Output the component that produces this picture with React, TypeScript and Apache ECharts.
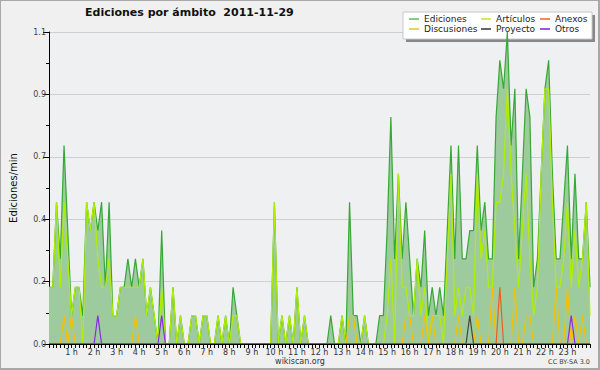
import React, { useEffect, useRef } from "react";
import * as echarts from "echarts";

// 10-minute points from 00:00 to 24:00 (145 points), edits per minute
const ediciones = [
  0.2, 0.2, 0.5, 0.3, 0.7, 0.4, 0.1, 0.2, 0.2, 0.1,
  0.5, 0.4, 0.5, 0.4, 0.5, 0.2, 0.5, 0.1, 0.1, 0.2,
  0.2, 0.3, 0.2, 0.3, 0.2, 0.3, 0.1, 0.2, 0.1, 0,
  0.4, 0, 0, 0.2, 0, 0.1, 0, 0, 0.1, 0.1,
  0, 0.1, 0.1, 0, 0, 0.1, 0, 0.1, 0, 0.2,
  0.1, 0, 0, 0, 0, 0, 0, 0, 0, 0,
  0.5, 0, 0.1, 0, 0.1, 0, 0.2, 0, 0.1, 0,
  0, 0, 0, 0, 0, 0.1, 0, 0, 0.1, 0,
  0.5, 0.1, 0.1, 0, 0.1, 0, 0, 0, 0.1, 0.1,
  0.4, 0.8, 0.3, 0.6, 0.3, 0.5, 0.3, 0.1, 0.3, 0.2,
  0.4, 0.1, 0.2, 0.1, 0.2, 0.1, 0.4, 0.7, 0.3, 0.7,
  0.3, 0.3, 0.4, 0.4, 0.7, 0.4, 0.5, 0.3, 0.3, 0.8,
  1.0, 0.9, 1.1, 0.7, 0.9, 0.3, 0.6, 0.9, 0.8, 0.2,
  0.3, 0.6, 0.9, 1.0, 0.6, 0.3, 0.3, 0.5, 0.7, 0.3,
  0.6, 0.3, 0.3, 0.5, 0.2,
];

const articulos = [
  0.2, 0.2, 0.5, 0.2, 0.5, 0.3, 0.1, 0.2, 0.2, 0,
  0.5, 0.4, 0.5, 0.3, 0.2, 0.2, 0.3, 0.1, 0.1, 0.2,
  0.2, 0.2, 0.2, 0.2, 0.2, 0.3, 0.1, 0.2, 0.1, 0,
  0.2, 0, 0, 0.2, 0, 0.1, 0, 0, 0.1, 0.1,
  0, 0.1, 0.1, 0, 0, 0.1, 0, 0.1, 0, 0.1,
  0.1, 0, 0, 0, 0, 0, 0, 0, 0, 0,
  0.5, 0, 0.1, 0, 0.1, 0, 0.2, 0, 0.1, 0,
  0, 0, 0, 0, 0, 0, 0, 0, 0.1, 0,
  0, 0, 0, 0, 0.1, 0, 0, 0, 0, 0,
  0.1, 0.3, 0, 0.6, 0.2, 0.2, 0.1, 0.1, 0.3, 0.1,
  0.2, 0, 0.1, 0.1, 0.1, 0, 0.3, 0.6, 0.1, 0.2,
  0.1, 0.2, 0.2, 0.1, 0.6, 0.3, 0.4, 0.2, 0.2, 0.5,
  0.5, 0.6, 0.9, 0.6, 0.4, 0.2, 0.4, 0.6, 0.3, 0.1,
  0.2, 0.6, 0.9, 0.9, 0.5, 0.2, 0.2, 0.3, 0.5, 0.2,
  0.4, 0.2, 0.3, 0.5, 0.1,
];

// sparse series: [point index, value]
const discusionesPeaks = [
  [4, 0.1], [6, 0.1], [23, 0.1], [80, 0.1], [81, 0.1], [95, 0.1], [96, 0.1],
  [100, 0.1], [102, 0.1], [109, 0.1], [114, 0.1], [118, 0.2], [124, 0.2],
  [127, 0.1], [128, 0.1], [135, 0.2], [138, 0.2], [140, 0.1], [142, 0.1],
];
const anexosPeaks = [[120, 0.2]];
const proyectoPeaks = [[112, 0.1]];
const otrosPeaks = [[13, 0.1], [30, 0.1], [139, 0.1]];

const hourLabels = [
  "1 h", "2 h", "3 h", "4 h", "5 h", "6 h", "7 h", "8 h", "9 h", "10 h", "11 h", "12 h",
  "13 h", "14 h", "15 h", "16 h", "17 h", "18 h", "19 h", "20 h", "21 h", "22 h", "23 h",
];

const POINTS = ediciones.length;
const times = Array.from({ length: POINTS }, (_, i) => {
  const h = Math.floor(i / 6);
  const m = (i % 6) * 10;
  return `${String(h).padStart(2, "0")}:${String(m).padStart(2, "0")}`;
});

function fromPeaks(peaks: number[][]): number[] {
  const out = new Array(POINTS).fill(0);
  peaks.forEach(([i, v]) => {
    out[i] = v;
  });
  return out;
}

const FONT = "DejaVu Sans";

export default function App() {
  const ref = useRef<HTMLDivElement>(null);

  useEffect(() => {
    document.body.style.margin = "0";
    if (!ref.current) return;
    const chart = echarts.init(ref.current, undefined, { renderer: "svg" });

    const lineSeries = (name: string, data: number[], color: string, z: number, extra: any = {}) => ({
      name,
      type: "line",
      data,
      xAxisIndex: 0,
      yAxisIndex: 0,
      symbol: "none",
      showSymbol: false,
      z,
      lineStyle: { color, width: 1.2 },
      itemStyle: { color },
      emphasis: { disabled: true },
      ...extra,
    });

    const legendBase = {
      orient: "vertical",
      top: 14,
      padding: 0,
      itemGap: 0,
      itemWidth: 10,
      itemHeight: 2,
      icon: "rect",
      selectedMode: false,
      textStyle: { fontFamily: FONT, fontSize: 9, color: "#222", lineHeight: 10 },
    };

    chart.setOption({
      animation: false,
      backgroundColor: "#f0f0f0",
      title: {
        text: "Ediciones por ámbito  2011-11-29",
        left: 85,
        top: 7,
        padding: 0,
        textStyle: { fontFamily: FONT, fontSize: 11, fontWeight: "bold", color: "#111" },
      },
      legend: [
        {
          ...legendBase,
          left: 409,
          data: [
            { name: "Ediciones", itemStyle: { color: "#86cc86" } },
            { name: "Discusiones", itemStyle: { color: "#f2d060" } },
          ],
        },
        {
          ...legendBase,
          left: 481,
          data: [
            { name: "Artículos", itemStyle: { color: "#cdee60" } },
            { name: "Proyecto", itemStyle: { color: "#666666" } },
          ],
        },
        {
          ...legendBase,
          left: 540,
          data: [
            { name: "Anexos", itemStyle: { color: "#f08a60" } },
            { name: "Otros", itemStyle: { color: "#9955ee" } },
          ],
        },
      ],
      graphic: [
        { type: "rect", shape: { x: 406, y: 15, width: 189, height: 27 }, style: { fill: "#888888" }, z: 1 },
        { type: "rect", shape: { x: 403, y: 12, width: 189, height: 27 }, style: { fill: "#ffffff", stroke: "#c8c8c8", lineWidth: 1 }, z: 2 },
        {
          type: "text",
          x: 300,
          y: 361,
          style: { text: "wikiscan.org", fontFamily: FONT, fontSize: 8, fill: "#333", align: "center", verticalAlign: "middle" },
        },
        {
          type: "text",
          x: 590,
          y: 362,
          style: { text: "CC BY-SA 3.0", fontFamily: FONT, fontSize: 6.5, fill: "#444", align: "right", verticalAlign: "middle" },
        },
      ],
      grid: {
        left: 46,
        right: 10,
        top: 32,
        bottom: 26,
        show: true,
        backgroundColor: "#eef0f2",
        borderWidth: 0,
        borderColor: "transparent",
      },
      xAxis: [
        {
          type: "category",
          data: times,
          boundaryGap: false,
          show: false,
        },
        {
          type: "value",
          min: 0,
          max: 24,
          interval: 1,
          position: "bottom",
          z: 10,
          axisLine: { show: true, lineStyle: { color: "#000", width: 1 } },
          axisTick: { show: true, length: 4, lineStyle: { color: "#000" } },
          minorTick: { show: true, splitNumber: 6, length: 4, lineStyle: { color: "#000" } },
          splitLine: { show: false },
          minorSplitLine: { show: false },
          axisLabel: {
            margin: 4,
            fontFamily: FONT,
            fontSize: 8,
            color: "#333",
            formatter: (v: number) => (v >= 1 && v <= 23 ? hourLabels[v - 1] : ""),
          },
        },
      ],
      yAxis: {
        type: "value",
        min: 0,
        max: 1.1,
        interval: 0.22,
        name: "Ediciones/min",
        nameLocation: "middle",
        nameGap: 31,
        nameTextStyle: { fontFamily: FONT, fontSize: 10, color: "#111" },
        axisLine: { show: true, lineStyle: { color: "#000", width: 1 } },
        axisTick: { show: true, length: 6, lineStyle: { color: "#000" } },
        minorTick: { show: true, splitNumber: 2, length: 3, lineStyle: { color: "#000" } },
        splitLine: { show: true, lineStyle: { color: "#cfcfcf", width: 1 } },
        axisLabel: {
          margin: 3,
          fontFamily: FONT,
          fontSize: 8,
          color: "#444",
          formatter: (v: number) => v.toFixed(1),
        },
      },
      series: [
        lineSeries("Ediciones", ediciones, "#35a835", 2, {
          areaStyle: { color: "#9ecb9e", opacity: 1 },
        }),
        lineSeries("Artículos", articulos, "#b2ee00", 3),
        lineSeries("Discusiones", fromPeaks(discusionesPeaks), "#f5c000", 4),
        lineSeries("Anexos", fromPeaks(anexosPeaks), "#f05a1e", 5),
        lineSeries("Proyecto", fromPeaks(proyectoPeaks), "#444444", 5),
        lineSeries("Otros", fromPeaks(otrosPeaks), "#8a2be2", 5),
      ],
    });

    return () => chart.dispose();
  }, []);

  return (
    <div style={{ position: "relative", width: 600, height: 370 }}>
      <div ref={ref} style={{ position: "absolute", left: 0, top: 0, width: 600, height: 370 }} />
      <div
        style={{
          position: "absolute",
          left: 0,
          top: 0,
          width: 600,
          height: 370,
          boxSizing: "border-box",
          border: "1px solid #a8a8a8",
          borderRightWidth: 2,
          borderBottomWidth: 2,
          pointerEvents: "none",
        }}
      />
    </div>
  );
}
